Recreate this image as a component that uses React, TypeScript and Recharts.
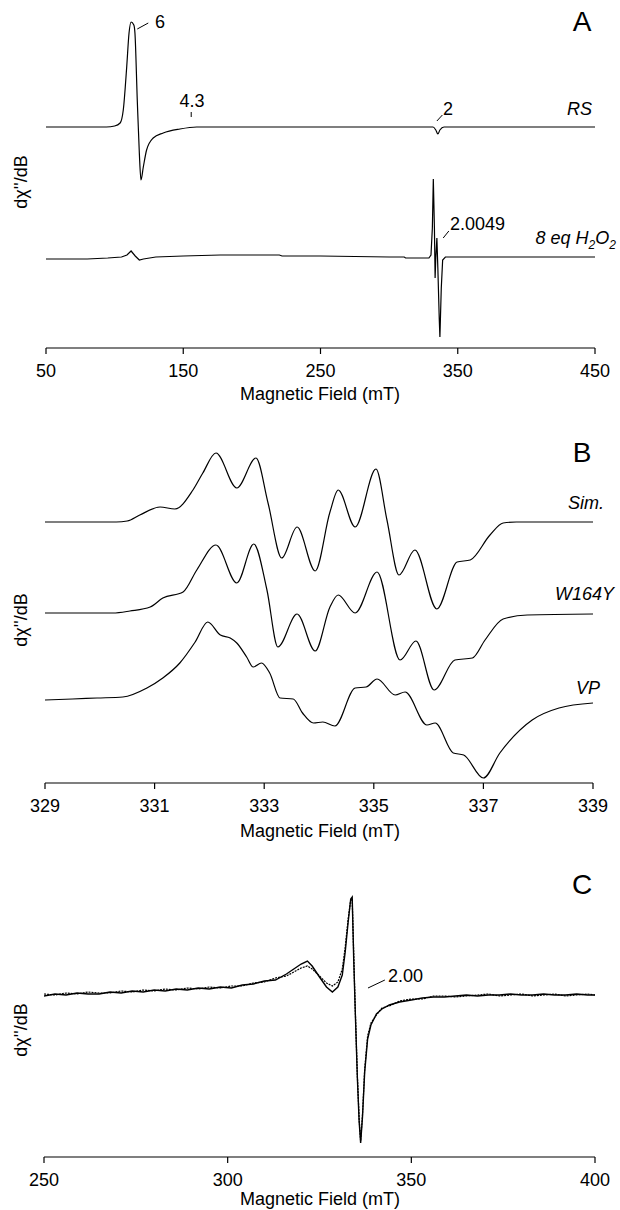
import * as React from 'react';
import { LineChart, Line, XAxis, YAxis, ReferenceLine } from 'recharts';

const FONT = '"Liberation Sans", Arial, Helvetica, sans-serif';

// Panel A: field (mT) and signal (arbitrary units)
const aTicks = [50, 150, 250, 350, 450];
const rsField = [50, 94, 100, 104, 106.3, 108.8, 110.5, 112, 114, 114.8, 116.5, 118, 119.2, 120.9, 123.3, 128.1, 135.4, 147.6, 159.8, 200, 300, 332, 334, 335.5, 337, 340, 450];
const rsSignal = [221, 221, 222, 225, 238, 281, 315, 326, 323, 315, 248, 195, 168, 181, 198, 210, 215, 219, 221, 221, 221, 221, 218, 214, 218, 221, 221];
const h2o2Field = [50, 80, 95, 105, 109, 112, 115, 118, 121, 130, 150, 177, 220, 222, 250, 300, 311, 312, 329, 330.5, 331.5, 332.2, 333, 333.5, 334, 334.8, 335.5, 336.5, 337, 338, 339, 341, 450];
const h2o2Signal = [89, 89, 90, 91, 93, 97, 92, 88, 89, 91, 92, 93, 93, 92, 92, 91, 91, 90, 90, 93, 120, 169, 120, 70, 90, 110, 80, 30, 11, 60, 88, 91, 91];

// Panel B
const bTicks = [329, 331, 333, 335, 337, 339];
const simField = [329, 330.3, 330.5, 330.73, 331.1, 331.37, 331.7, 331.88, 332.12, 332.5, 332.85, 333.07, 333.32, 333.6, 333.93, 334.2, 334.35, 334.66, 335.04, 335.24, 335.46, 335.75, 336.15, 336.52, 336.76, 337.12, 337.36, 337.6, 339];
const simSignal = [261, 261, 262, 268, 276, 274, 293, 310, 330, 295, 325, 280, 225, 256, 212, 271, 293, 256, 314, 263, 208, 233, 174, 221, 223, 248, 260, 261, 261];
const w164yField = [329, 330.24, 330.55, 330.92, 331.15, 331.52, 331.77, 332.12, 332.5, 332.81, 333.05, 333.25, 333.6, 333.93, 334.2, 334.35, 334.66, 335.06, 335.48, 335.77, 336.1, 336.48, 336.8, 337.03, 337.36, 337.8, 339];
const w164ySignal = [170, 170, 172, 176, 185, 191, 213, 238, 200, 239, 193, 136, 169, 132, 176, 188, 170, 211, 123, 142, 93, 123, 125, 143, 164, 168, 169];
const vpField = [329, 329.5, 329.95, 330.42, 330.86, 331.15, 331.46, 331.74, 331.97, 332.2, 332.38, 332.5, 332.68, 332.8, 332.95, 333.1, 333.29, 333.53, 333.7, 333.9, 334.07, 334.29, 334.66, 334.86, 335.06, 335.39, 335.57, 335.97, 336.12, 336.45, 336.64, 337, 337.3, 337.89, 338.38, 339];
const vpSignal = [83, 84, 85, 86, 95, 105, 120, 141, 161, 148, 145, 140, 126, 116, 120, 110, 85, 84, 70, 60, 61, 57, 95, 96, 104, 88, 91, 58, 60, 30, 28, 5, 30, 63, 75, 80];

// Panel C: two overlaid traces
const cTicks = [250, 300, 350, 400];
const cField = [250, 253, 256, 259, 262, 265, 268, 271, 274, 277, 280, 283, 286, 289, 292, 295, 298, 301, 304, 307, 310, 313, 316, 318, 320, 321.7, 323, 325, 326.9, 328.5, 330, 331.2, 332, 332.8, 333.5, 333.9, 334.3, 334.7, 335.3, 335.8, 336.2, 336.7, 337.3, 338.1, 339, 340.5, 342, 344, 346.8, 350, 353, 356, 359, 362, 365, 368, 371, 374, 377, 380, 383, 386, 389, 392, 395, 398, 400];
const cTrace1 = [161, 163, 162, 164, 163, 163, 165, 164, 166, 165, 167, 166, 168, 167, 169, 168, 170, 169, 172, 173, 176, 177, 183, 188, 193, 196, 191, 180, 170, 165, 170, 182, 205, 235, 258, 260, 200, 150, 80, 35, 14, 40, 85, 118, 132, 143, 148, 152, 155, 157, 159, 160, 160, 161, 162, 161, 162, 162, 163, 162, 162, 163, 162, 162, 163, 162, 162];
const cTrace2 = [163, 162, 164, 163, 165, 164, 164, 166, 165, 167, 166, 168, 167, 169, 168, 170, 169, 171, 171, 174, 175, 179, 181, 185, 189, 191, 188, 181, 174, 171, 175, 188, 210, 238, 257, 258, 205, 152, 82, 38, 16, 42, 88, 121, 134, 142, 149, 151, 156, 158, 158, 161, 161, 160, 161, 162, 163, 161, 162, 163, 161, 162, 163, 161, 162, 163, 162];

const zip = (xs: number[], ys: number[]) => xs.map((x, i) => ({ x, y: ys[i] }));

function Txt({ x, y, size = 18, italic = false, anchor = 'middle', rotate = false, children }: any) {
  const tx = anchor === 'middle' ? '-50%' : anchor === 'end' ? '-100%' : '0';
  return (
    <div
      style={{
        position: 'absolute',
        left: x,
        top: y,
        transform: `translate(${tx}, -50%)${rotate ? ' rotate(-90deg)' : ''}`,
        fontFamily: FONT,
        fontSize: size,
        fontStyle: italic ? 'italic' : 'normal',
        whiteSpace: 'nowrap',
        lineHeight: 1,
        color: '#000',
      }}
    >
      {children}
    </div>
  );
}

const axisStyle = { stroke: '#000', strokeWidth: 1.2 };
const tickStyle = { fill: '#000', fontSize: 18, fontFamily: FONT };

function Panel({ top, height, margin, domain, ticks, yMax, children }: any) {
  return (
    <div style={{ position: 'absolute', left: 0, top }}>
      <LineChart width={620} height={height} margin={margin}>
        <XAxis
          dataKey="x"
          type="number"
          domain={domain}
          ticks={ticks}
          interval={0}
          allowDataOverflow
          height={40}
          tickSize={6}
          tickMargin={10}
          axisLine={axisStyle}
          tickLine={axisStyle}
          tick={tickStyle}
        />
        <YAxis type="number" domain={[0, yMax]} width={0} tick={false} tickLine={false} axisLine={axisStyle} allowDataOverflow />
        {children}
      </LineChart>
    </div>
  );
}

const lineProps = { dataKey: 'y', dot: false, stroke: '#000', isAnimationActive: false, activeDot: false } as const;

export default function App() {
  return (
    <div style={{ position: 'absolute', left: 0, top: 0, width: 620, height: 1210, background: '#fff' }}>
      <Panel top={0} height={420} margin={{ top: 18, right: 25, bottom: 32, left: 46 }} domain={[50, 450]} ticks={aTicks} yMax={330}>
        <Line {...lineProps} data={zip(rsField, rsSignal)} type="monotone" strokeWidth={1.2} />
        <Line {...lineProps} data={zip(h2o2Field, h2o2Signal)} type="linear" strokeWidth={1.2} />
        <ReferenceLine segment={[{ x: 116.5, y: 319 }, { x: 124.5, y: 325 }]} stroke="#000" />
        <ReferenceLine segment={[{ x: 155.8, y: 231 }, { x: 155.8, y: 236 }]} stroke="#000" />
        <ReferenceLine segment={[{ x: 334.8, y: 227 }, { x: 338.8, y: 233 }]} stroke="#000" />
        <ReferenceLine segment={[{ x: 339.4, y: 110 }, { x: 343.5, y: 117 }]} stroke="#000" />
      </Panel>

      <Panel top={420} height={440} margin={{ top: 22, right: 27, bottom: 37, left: 45 }} domain={[329, 339]} ticks={bTicks} yMax={341}>
        <Line {...lineProps} data={zip(simField, simSignal)} type="monotone" strokeWidth={1.2} />
        <Line {...lineProps} data={zip(w164yField, w164ySignal)} type="monotone" strokeWidth={1.2} />
        <Line {...lineProps} data={zip(vpField, vpSignal)} type="monotone" strokeWidth={1.2} />
      </Panel>

      <Panel top={860} height={350} margin={{ top: 15, right: 25, bottom: 13, left: 44 }} domain={[250, 400]} ticks={cTicks} yMax={282}>
        <Line {...lineProps} data={zip(cField, cTrace1)} type="linear" strokeWidth={1.4} />
        <Line {...lineProps} data={zip(cField, cTrace2)} type="linear" strokeWidth={1.2} strokeDasharray="2 1" />
        <ReferenceLine segment={[{ x: 338.2, y: 169 }, { x: 342.8, y: 177 }]} stroke="#000" />
      </Panel>

      {/* panel A text */}
      <Txt x={582} y={22} size={28}>A</Txt>
      <Txt x={160} y={22}>6</Txt>
      <Txt x={192} y={101}>4.3</Txt>
      <Txt x={448} y={109}>2</Txt>
      <Txt x={592} y={109} italic anchor="end">RS</Txt>
      <Txt x={450} y={224} anchor="start">2.0049</Txt>
      <Txt x={616} y={240} italic anchor="end">
        8 eq H<sub style={{ fontSize: 12 }}>2</sub>O<sub style={{ fontSize: 12 }}>2</sub>
      </Txt>
      <Txt x={21} y={182} rotate>dχ''/dB</Txt>
      <Txt x={320} y={394}>Magnetic Field (mT)</Txt>

      {/* panel B text */}
      <Txt x={582} y={453} size={28}>B</Txt>
      <Txt x={604} y={503} italic anchor="end">Sim.</Txt>
      <Txt x={614} y={594} italic anchor="end">W164Y</Txt>
      <Txt x={600} y={688} italic anchor="end">VP</Txt>
      <Txt x={21} y={620} rotate>dχ''/dB</Txt>
      <Txt x={320} y={831}>Magnetic Field (mT)</Txt>

      {/* panel C text */}
      <Txt x={582} y={885} size={28}>C</Txt>
      <Txt x={388} y={976} anchor="start">2.00</Txt>
      <Txt x={21} y={1030} rotate>dχ''/dB</Txt>
      <Txt x={320} y={1199}>Magnetic Field (mT)</Txt>
    </div>
  );
}
